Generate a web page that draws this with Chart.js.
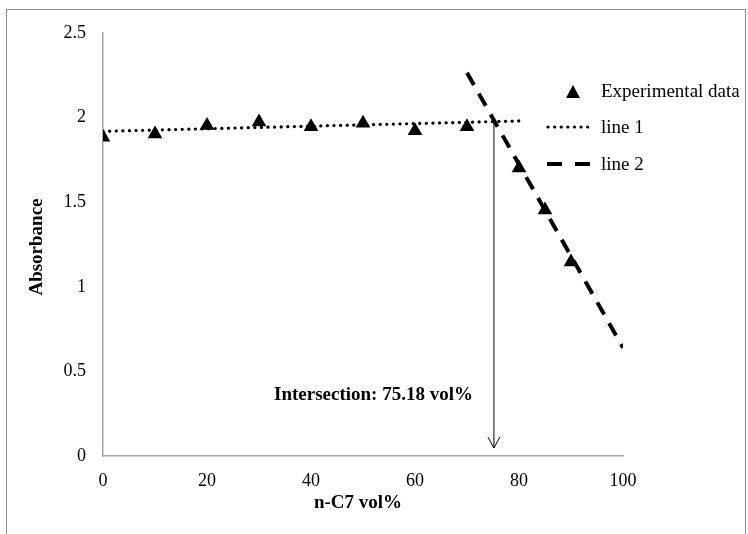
<!DOCTYPE html>
<html>
<head>
<meta charset="utf-8">
<script src="https://cdn.jsdelivr.net/npm/chart.js@4"></script>
<style>
  body { margin: 0; background: #fff; }
  #wrap { position: relative; width: 748px; height: 534px; overflow: hidden; }
  #frame { position: absolute; left: 6px; top: 9px; width: 740px; height: 540px; border: 1px solid #8c8c8c; box-sizing: border-box; }
  canvas { position: absolute; left: 0; top: 0; }
</style>
</head>
<body>
<div id="wrap">
  <div id="frame"></div>
  <canvas id="chart" width="748" height="534"></canvas>
</div>
<script>
const expX = [0, 10, 20, 30, 40, 50, 60, 70, 80, 85, 90];
const expY = [1.884, 1.903, 1.954, 1.974, 1.946, 1.966, 1.923, 1.946, 1.702, 1.454, 1.147];

const line1X = [0, 81];
const line1Y = [1.919, 1.981];
const line2X = [70, 100];
const line2Y = [2.265, 0.64];

const intersectX = 75.18;
const xTicks = [0, 20, 40, 60, 80, 100];
const yTicks = [0, 0.5, 1, 1.5, 2, 2.5];

const FONT = '"Liberation Serif", "Times New Roman", serif';

const toPoints = (xs, ys) => xs.map((x, i) => ({ x: x, y: ys[i] }));

// arrow, annotation, axis titles and legend
const extras = {
    id: 'extras',
    afterDraw(chart) {
        const ctx = chart.ctx;
        const xs = chart.scales.x, ys = chart.scales.y;
        const yInt = line1Y[0] + (line1Y[1] - line1Y[0]) * (intersectX - line1X[0]) / (line1X[1] - line1X[0]);
        const ax = xs.getPixelForValue(intersectX);
        const top = ys.getPixelForValue(yInt);
        const tip = ys.getPixelForValue(0) - 8;

        ctx.save();
        ctx.strokeStyle = '#000';
        ctx.lineWidth = 1;
        ctx.beginPath();
        ctx.moveTo(ax, top);
        ctx.lineTo(ax, tip);
        ctx.moveTo(ax - 6, tip - 11);
        ctx.lineTo(ax, tip);
        ctx.lineTo(ax + 6, tip - 11);
        ctx.stroke();

        ctx.fillStyle = '#000';
        ctx.font = 'bold 19px ' + FONT;
        ctx.textAlign = 'right';
        ctx.textBaseline = 'middle';
        ctx.fillText('Intersection: ' + intersectX + ' vol%', ax - 21, ys.getPixelForValue(0.36));

        // axis titles
        ctx.textAlign = 'center';
        ctx.fillText('n-C7 vol%', (xs.left + xs.right) / 2 - 5, 503);
        ctx.save();
        ctx.translate(37, 247);
        ctx.rotate(-Math.PI / 2);
        ctx.fillText('Absorbance', 0, 0);
        ctx.restore();

        // legend
        ctx.font = '19px ' + FONT;
        ctx.textAlign = 'left';
        ctx.beginPath();
        ctx.moveTo(573, 85);
        ctx.lineTo(580, 98);
        ctx.lineTo(566, 98);
        ctx.closePath();
        ctx.fill();
        ctx.fillText('Experimental data', 601, 92);

        ctx.lineWidth = 3.2;
        ctx.lineCap = 'round';
        ctx.setLineDash([0.1, 6.5]);
        ctx.beginPath();
        ctx.moveTo(548, 127);
        ctx.lineTo(590, 127);
        ctx.stroke();
        ctx.fillText('line 1', 601, 128);

        ctx.lineWidth = 4;
        ctx.lineCap = 'butt';
        ctx.setLineDash([15, 13]);
        ctx.beginPath();
        ctx.moveTo(547, 164);
        ctx.lineTo(590, 164);
        ctx.stroke();
        ctx.setLineDash([]);
        ctx.fillText('line 2', 601, 165);
        ctx.restore();
    }
};

new Chart(document.getElementById('chart'), {
    type: 'scatter',
    data: {
        datasets: [
            {
                label: 'Experimental data',
                data: toPoints(expX, expY),
                pointStyle: 'triangle',
                pointRadius: 8.5,
                backgroundColor: '#000',
                borderColor: '#000',
                borderWidth: 0
            },
            {
                label: 'line 1',
                data: toPoints(line1X, line1Y),
                showLine: true,
                pointRadius: 0,
                borderColor: '#000',
                borderWidth: 3.2,
                borderCapStyle: 'round',
                borderDash: [0.1, 6.5]
            },
            {
                label: 'line 2',
                data: toPoints(line2X, line2Y),
                showLine: true,
                pointRadius: 0,
                borderColor: '#000',
                borderWidth: 4,
                borderDash: [14, 10]
            }
        ]
    },
    options: {
        responsive: false,
        animation: false,
        layout: { padding: { left: 0, top: 33, right: 125, bottom: 0 } },
        plugins: { legend: { display: false }, tooltip: { enabled: false } },
        scales: {
            x: {
                type: 'linear',
                min: 0,
                max: 100,
                afterBuildTicks: s => { s.ticks = xTicks.map(v => ({ value: v })); },
                afterFit: s => { s.height = 78; },
                grid: { display: false, drawTicks: false },
                border: { display: true, color: '#a6a6a6', width: 1.5 },
                ticks: { color: '#000', font: { family: FONT, size: 18 }, padding: 14 }
            },
            y: {
                min: 0,
                max: 2.5,
                afterBuildTicks: s => { s.ticks = yTicks.map(v => ({ value: v })); },
                afterFit: s => { s.width = 103; },
                grid: { display: false, drawTicks: false },
                border: { display: true, color: '#a6a6a6', width: 1.5 },
                ticks: { color: '#000', font: { family: FONT, size: 18 }, padding: 17, callback: v => String(v) }
            }
        }
    },
    plugins: [extras]
});
</script>
</body>
</html>
